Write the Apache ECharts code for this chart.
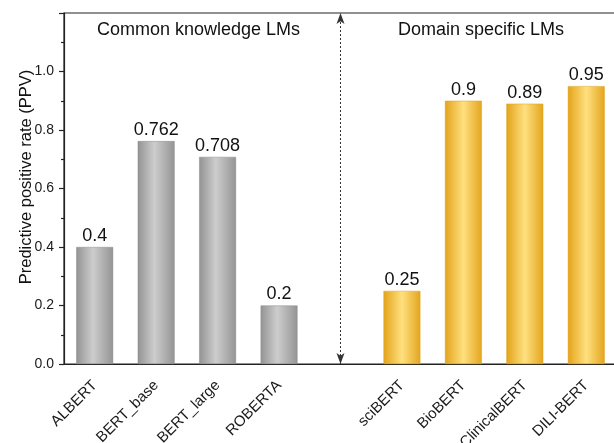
<!DOCTYPE html>
<html>
<head>
<meta charset="utf-8">
<script src="https://cdn.jsdelivr.net/npm/echarts@6/dist/echarts.min.js"></script>
<style>
html,body{margin:0;padding:0;background:#fff;}
#chart{width:614px;height:443px;}
</style>
</head>
<body>
<div id="chart"></div>
<script>
// ---- data ----
const commonModels = ['ALBERT', 'BERT_base', 'BERT_large', 'ROBERTA'];
const commonValues = [0.4, 0.762, 0.708, 0.2];
const domainModels = ['sciBERT', 'BioBERT', 'ClinicalBERT', 'DILI-BERT'];
const domainValues = [0.25, 0.9, 0.89, 0.95];
const separatorCategory = '';
const groupTitles = ['Common knowledge LMs', 'Domain specific LMs'];
const yTicks = [0, 0.2, 0.4, 0.6, 0.8, 1.0];
const yTitle = 'Predictive positive rate (PPV)';

const categories = commonModels.concat([separatorCategory], domainModels);

const FONT = 'Liberation Sans, Arial, sans-serif';
const grayGrad = new echarts.graphic.LinearGradient(0, 0, 1, 0, [
  {offset: 0, color: '#939393'},
  {offset: 0.45, color: '#cdcdcd'},
  {offset: 1, color: '#949494'}
]);
const goldGrad = new echarts.graphic.LinearGradient(0, 0, 1, 0, [
  {offset: 0, color: '#e3a31a'},
  {offset: 0.5, color: '#ffe07f'},
  {offset: 1, color: '#e3a51e'}
]);

const barData = [];
commonValues.forEach(v => barData.push({value: v, itemStyle: {color: grayGrad, borderColor: '#8a8a8a', borderWidth: 0.5}}));
barData.push({value: '-'});
domainValues.forEach(v => barData.push({value: v, itemStyle: {color: goldGrad, borderColor: '#dca01c', borderWidth: 0.5}}));

const chart = echarts.init(document.getElementById('chart'), null, {renderer: 'canvas'});
chart.setOption({
  animation: false,
  backgroundColor: '#fff',
  textStyle: {fontFamily: FONT},
  grid: {left: 64, top: 13, right: -3, bottom: 79, containLabel: false, outerBoundsMode: 'none',
         show: true, borderColor: '#222', borderWidth: 1.2},
  xAxis: [{
    type: 'category',
    data: categories,
    axisLine: {lineStyle: {color: '#222', width: 1.2}},
    axisTick: {alignWithLabel: true, length: 6, lineStyle: {color: '#222', width: 1.2}},
    axisLabel: {rotate: 45, fontSize: 15, color: '#1a1a1a', margin: 19, fontFamily: FONT, interval: 0}
  }, {
    type: 'category',
    data: categories,
    position: 'bottom',
    axisLine: {show: false},
    axisTick: {alignWithLabel: false, length: 3, lineStyle: {color: '#222', width: 1.2}},
    axisLabel: {show: false}
  }],
  yAxis: {
    type: 'value',
    min: 0, max: 1.2, interval: 0.2,
    axisLine: {show: true, lineStyle: {color: '#222', width: 1.2}},
    axisTick: {show: true, length: 5, lineStyle: {color: '#222', width: 1.2}},
    minorTick: {show: true, splitNumber: 2, length: 3, lineStyle: {color: '#222', width: 1.2}},
    splitLine: {show: false},
    axisLabel: {
      fontSize: 14, color: '#1a1a1a', margin: 10, fontFamily: FONT,
      formatter: v => (yTicks.some(t => Math.abs(t - v) < 1e-9) ? v.toFixed(1) : '')
    }
  },
  series: [{
    type: 'bar',
    xAxisIndex: 0,
    data: barData,
    barWidth: '60%',
    label: {show: true, position: 'top', distance: 2, fontSize: 18, color: '#111', fontFamily: FONT},
    markLine: {
      silent: true,
      label: {show: false},
      animation: false,
      data: [
        [{coord: [separatorCategory, 0], symbol: 'arrow', symbolSize: [6, 11]},
         {coord: [separatorCategory, 1.2], symbol: 'arrow', symbolSize: [6, 11]}],
        [{yAxis: 1.1, symbol: 'none', lineStyle: {type: 'solid', color: '#444', width: 1.2}},
         {yAxis: 1.1, symbol: 'none'}]
      ],
      lineStyle: {type: [2, 2], color: '#333', width: 1}
    }
  }],
  graphic: [
    {type: 'text', left: 97, top: 21, style: {text: groupTitles[0], font: '18px ' + FONT, fill: '#111'}},
    {type: 'text', left: 398, top: 21, style: {text: groupTitles[1], font: '18px ' + FONT, fill: '#111'}},
    {type: 'text', x: 26, y: 177, rotation: Math.PI / 2, style: {text: yTitle, font: '16.5px ' + FONT, fill: '#111', align: 'center', verticalAlign: 'middle'}}
  ]
});
</script>
</body>
</html>
